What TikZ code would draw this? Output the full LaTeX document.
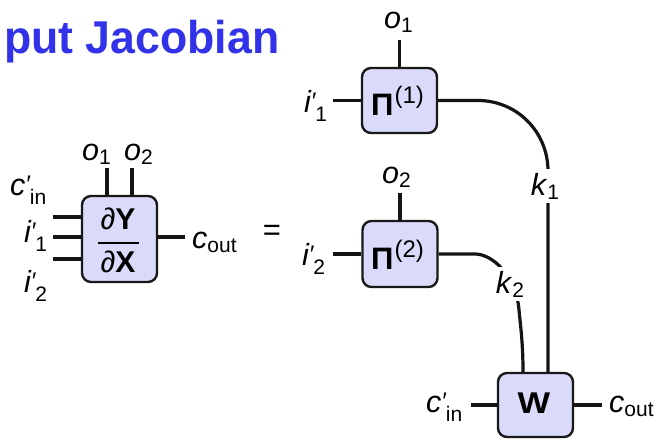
\documentclass[tikz,border=0pt]{standalone}
\usepackage{fontspec}
\setmainfont{Liberation Sans}
\definecolor{titleblue}{RGB}{50,50,232}
\definecolor{boxfill}{RGB}{218,218,250}
\newcommand\lsub[1]{\raisebox{-4pt}{\fontsize{21}{21}\selectfont\upshape #1}}
\newcommand\psub[1]{\raisebox{-9pt}{\fontsize{21}{21}\selectfont\upshape #1}}
\newcommand\lprm[1][0pt]{\kern#1\raisebox{3pt}{\fontsize{24}{24}\selectfont\itshape ′}}
\begin{document}
\begin{tikzpicture}[x=1pt,y=-1pt,
  tbox/.style={draw=black!90,line width=2.4pt,fill=boxfill,rounded corners=9pt,inner sep=0pt},
  leg/.style={line width=3.2pt,black!92},
  lbl/.style={inner sep=0pt,anchor=base west,font=\fontsize{30.5}{31}\selectfont},
  klbl/.style={fill=white,inner sep=4pt,font=\fontsize{30.5}{31}\selectfont},
  inner/.style={inner sep=0pt,font=\fontsize{30}{30}\selectfont}]
\useasboundingbox (0,0) rectangle (657,439);

% title
\node[inner sep=0pt,anchor=base west,text=titleblue,font=\fontsize{46}{46}\selectfont\bfseries] (title) at (4,53) {\scalebox{0.97}[1]{put Jacobian}};

% left box
\node[tbox,minimum width=75pt,minimum height=86pt] (D) at (119.5,239) {};
\node[inner] (dY) at (118,219) {∂\textbf{Y}};
\node[inner] (dX) at (118,262) {∂\textbf{X}};
\coordinate (barl) at (98,243);
\coordinate (barr) at (139,243);
\draw[line width=2pt] (barl) -- (barr);

\coordinate (Do1) at (107,168);
\coordinate (Do2) at (132,168);
\coordinate (Dcin) at (53,217);
\coordinate (Di1) at (53,237);
\coordinate (Di2) at (53,259);
\coordinate (Dcout) at (185,237);
\draw[leg] (Do1) -- (Do1 |- D.north);
\draw[leg] (Do2) -- (Do2 |- D.north);
\draw[leg] (Dcin) -- (Dcin -| D.west);
\draw[leg] (Di1) -- (Di1 -| D.west);
\draw[leg] (Di2) -- (Di2 -| D.west);
\draw[leg] (Dcout) -- (Dcout -| D.east);

\node[lbl] (lo1) at (82,160) {\textit{o}\lsub{1}};
\node[lbl] (lo2) at (124,160) {\textit{o}\lsub{2}};
\node[lbl] (lcin) at (10,195) {\textit{c}\lprm\psub{in}};
\node[lbl] (li1) at (24,242) {\textit{i}\lprm[-0.7pt]\psub{1}};
\node[lbl] (li2) at (24,292) {\textit{i}\lprm[-0.7pt]\psub{2}};
\node[lbl] (lcout) at (192,248) {\textit{c}\lsub{out}};
\node[inner sep=0pt,font=\fontsize{31}{31}\selectfont] (eq) at (272,233) {=};

% Pi(1)
\node[tbox,minimum width=75pt,minimum height=65pt] (P1) at (399.5,100.5) {};
\node[inner sep=0pt,anchor=base west] (P1t) at (371,115) {{\fontsize{31}{31}\selectfont\bfseries Π}\kern1pt\raisebox{12pt}{\fontsize{24}{24}\selectfont (1)}};
\coordinate (P1o) at (399.5,40);
\coordinate (P1i) at (333,100.5);
\draw[leg] (P1o) -- (P1.north);
\draw[leg] (P1i) -- (P1.west);
\node[lbl] (p1o1) at (384,28) {\textit{o}\lsub{1}};
\node[lbl] (p1i1) at (304,112) {\textit{i}\lprm[-0.7pt]\psub{1}};

% Pi(2)
\node[tbox,minimum width=75pt,minimum height=66pt] (P2) at (400,254) {};
\node[inner sep=0pt,anchor=base west] (P2t) at (371,269) {{\fontsize{31}{31}\selectfont\bfseries Π}\kern1pt\raisebox{12pt}{\fontsize{24}{24}\selectfont (2)}};
\coordinate (P2o) at (400,193);
\coordinate (P2i) at (333,254);
\draw[leg] (P2o) -- (P2.north);
\draw[leg] (P2i) -- (P2.west);
\node[lbl] (p2o2) at (382,183) {\textit{o}\lsub{2}};
\node[lbl] (p2i2) at (302,265) {\textit{i}\lprm[-0.7pt]\psub{2}};

% W
\node[tbox,minimum width=75pt,minimum height=64pt] (W) at (535.5,405) {};
\node[inner sep=0pt,font=\fontsize{30}{30}\selectfont\bfseries] (Wt) at (534,403) {\scalebox{1.15}[1]{W}};
\coordinate (Wk2) at (523,300);
\coordinate (Wk1) at (548,300);
\coordinate (Wcin) at (471,405);
\coordinate (Wcout) at (602,405);
\draw[leg] (Wcin) -- (W.west);
\draw[leg] (Wcout) -- (W.east);
\node[lbl] (wcin) at (426,412) {\textit{c}\lprm\psub{in}};
\node[lbl] (wcout) at (609,412) {\textit{c}\lsub{out}};

% wires
\draw[leg] (P1.east) -- (478,100.5) .. controls (517,100.5) and (548,132) .. (548,171) -- (Wk1 |- W.north);
\draw[leg] (P2.east) -- (475,254) .. controls (492,254) and (516,275) .. (519,310) .. controls (521,330) and (523,345) .. (Wk2 |- W.north);
\node[klbl] (k1) at (545,186) {\textit{k}\lsub{1}};
\node[klbl] (k2) at (510,284) {\textit{k}\lsub{2}};
\end{tikzpicture}
\end{document}
